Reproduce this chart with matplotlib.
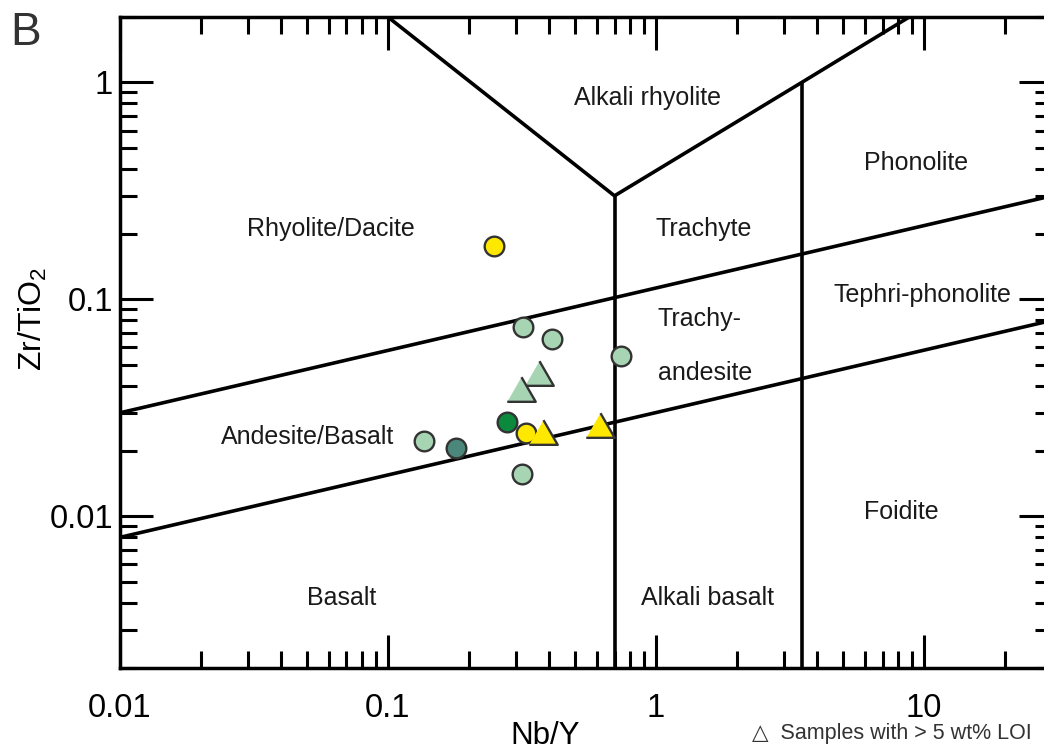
import matplotlib.pyplot as plt
from matplotlib.ticker import FuncFormatter

plt.rcParams['font.family'] = ['Liberation Sans', 'DejaVu Sans']
plt.rcParams['mathtext.fontset'] = 'custom'
plt.rcParams['mathtext.rm'] = 'Liberation Sans'

# samples (Nb/Y, Zr/TiO2), grouped by symbol
light_circ_nby = [0.319, 0.409, 0.739, 0.136, 0.316]
light_circ_zr = [0.0743, 0.0654, 0.0546, 0.0222, 0.0156]
dark_circ_nby = [0.278]
dark_circ_zr = [0.0271]
teal_circ_nby = [0.179]
teal_circ_zr = [0.0206]
yellow_circ_nby = [0.327, 0.249]
yellow_circ_zr = [0.0241, 0.177]
light_tri_nby = [0.366, 0.313]
light_tri_zr = [0.0456, 0.0385]
yellow_tri_nby = [0.379, 0.618]
yellow_tri_zr = [0.0244, 0.0265]

# field boundaries
boundaries = [
    ([0.01, 30], [0.03, 0.3]),
    ([0.01, 30], [0.008, 0.08]),
    ([0.1, 0.7, 3.5, 8.8], [2, 0.3, 1, 2]),
    ([0.7, 0.7], [0.3, 0.002]),
    ([3.5, 3.5], [1, 0.002]),
]

fields = ['Alkali rhyolite', 'Rhyolite/Dacite', 'Trachyte', 'Phonolite',
          'Tephri-phonolite', 'Trachy-', 'andesite', 'Andesite/Basalt',
          'Foidite', 'Basalt', 'Alkali basalt']
field_x = [0.93, 0.0612, 1.50, 9.33, 9.84, 1.45, 1.52, 0.05, 8.2, 0.0673, 1.56]
field_y = [0.843, 0.21, 0.21, 0.424, 0.105, 0.081, 0.0456, 0.0231, 0.0105,
           0.00419, 0.00419]

fig = plt.figure(figsize=(10.44, 7.51), dpi=100)
ax = fig.add_axes([0.1149, 0.1105, 0.8927, 0.8668])
ax.set_xscale('log')
ax.set_yscale('log')
ax.set_xlim(0.01, 30)
ax.set_ylim(0.002, 2)

for bx, by in boundaries:
    ax.plot(bx, by, color='black', lw=2.6, solid_capstyle='butt', zorder=2)

for name, tx, ty in zip(fields, field_x, field_y):
    ax.text(tx, ty, name, fontsize=18, ha='center', va='center', color='#1a1a1a')

tri = [(-1, -0.866), (1, -0.866), (0, 0.866)]
edge = '#333333'
ax.scatter(light_circ_nby, light_circ_zr, s=200, c='#a7d5b3', edgecolors=edge, linewidths=1.7, zorder=3)
ax.scatter(dark_circ_nby, dark_circ_zr, s=200, c='#0b8a3e', edgecolors=edge, linewidths=1.7, zorder=3)
ax.scatter(teal_circ_nby, teal_circ_zr, s=200, c='#4b877b', edgecolors=edge, linewidths=1.7, zorder=3)
ax.scatter(yellow_circ_nby, yellow_circ_zr, s=200, c='#ffe800', edgecolors=edge, linewidths=1.7, zorder=3)
ax.scatter(light_tri_nby, light_tri_zr, s=420, marker=tri, c='#a7d5b3', edgecolors=edge, linewidths=1.7, zorder=3)
ax.scatter(yellow_tri_nby, yellow_tri_zr, s=420, marker=tri, c='#ffe800', edgecolors=edge, linewidths=1.7, zorder=3)

for sp in ax.spines.values():
    sp.set_linewidth(2.5)
ax.tick_params(which='both', direction='in', top=True, right=True, width=2.2)
ax.tick_params(which='major', length=24, labelsize=23.5)
ax.tick_params(which='minor', length=12)
ax.tick_params(axis='x', which='major', pad=18)
ax.tick_params(axis='y', which='major', pad=5)
ax.xaxis.set_major_formatter(FuncFormatter(lambda v, p: '%g' % v))
ax.yaxis.set_major_formatter(FuncFormatter(lambda v, p: '%g' % v))

fig.text(545 / 1044, 1 - 736 / 751, 'Nb/Y', fontsize=22.5, ha='center', va='center')
fig.text(33 / 1044, 1 - 319 / 751, 'Zr/TiO$_2$', fontsize=23, rotation=90,
         ha='center', va='center')
fig.text(752 / 1044, 1 - 734 / 751, '\u25b3  Samples with > 5 wt% LOI', fontsize=15.5,
         va='center', color='#333333')
fig.text(10 / 1044, 1 - 33 / 751, 'B', fontsize=33, va='center', color='#333333')

fig.savefig('out.png', dpi=100)
